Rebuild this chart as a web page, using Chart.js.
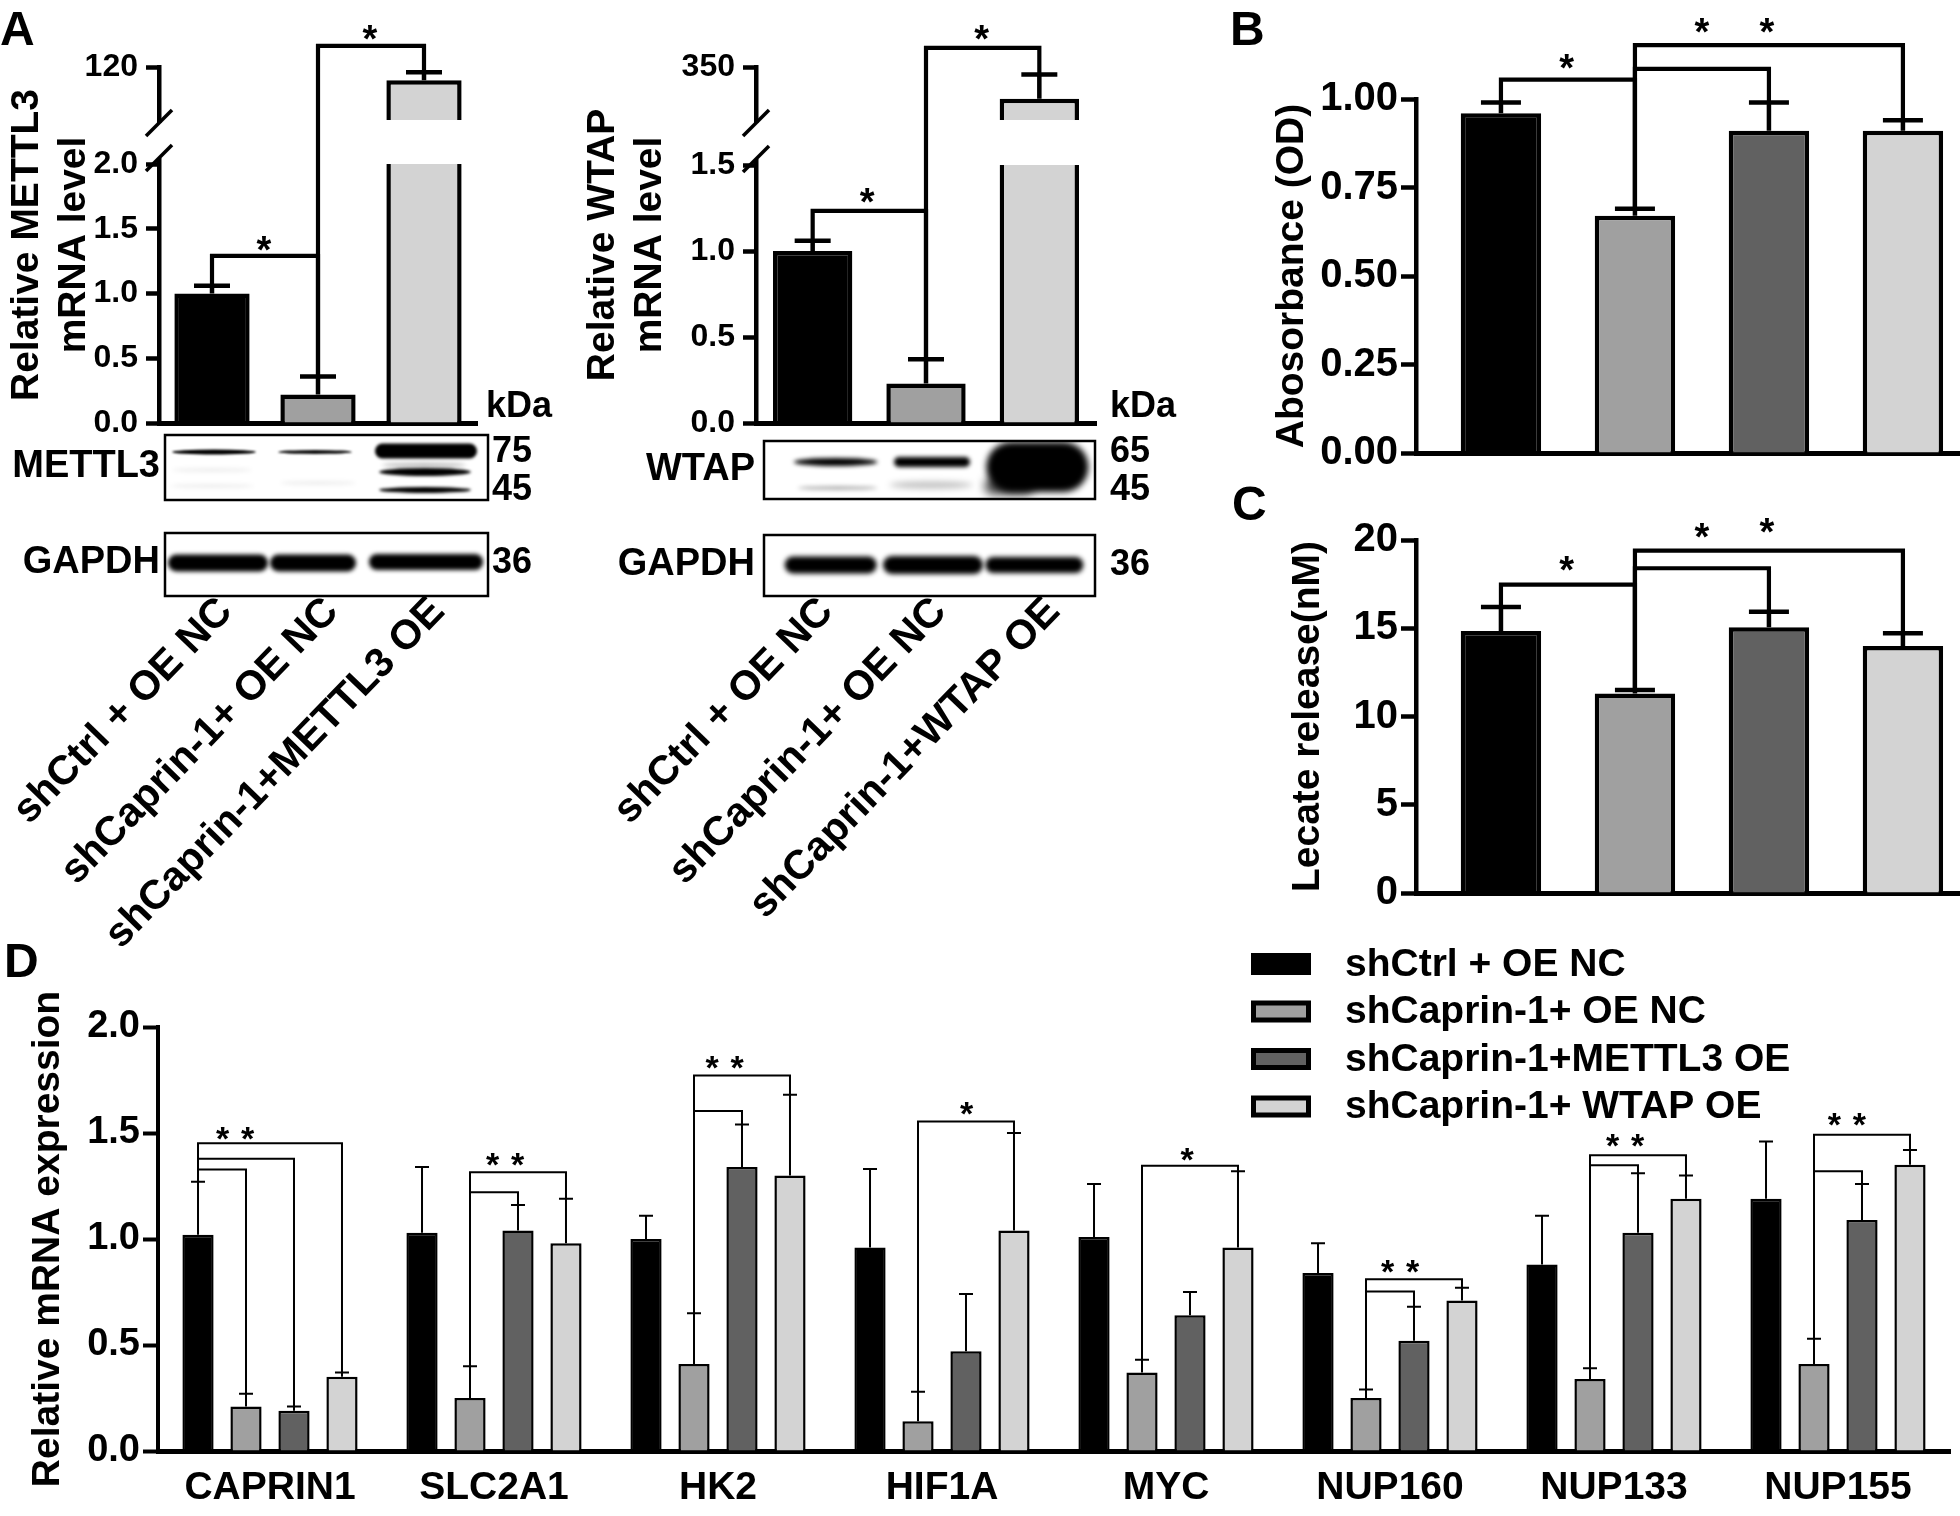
<!DOCTYPE html>
<html>
<head>
<meta charset="utf-8">
<title>Caprin-1 / METTL3 / WTAP</title>
<script src="https://cdn.jsdelivr.net/npm/chart.js@4.4.1/dist/chart.umd.min.js"></script>
<style>
  html, body { margin: 0; padding: 0; background: #fff; }
  body { width: 1960px; height: 1516px; position: relative; overflow: hidden; }
  canvas { position: absolute; }
  #chartA1 { left: 0; top: 0; }
  #chartA2 { left: 540px; top: 0; }
  #chartB { left: 1200px; top: 0; }
  #chartC { left: 1200px; top: 480px; }
  #chartD { left: 0; top: 940px; }
</style>
</head>
<body>
<canvas id="chartA1" width="560" height="960"></canvas>
<canvas id="chartA2" width="660" height="960"></canvas>
<canvas id="chartB" width="760" height="480"></canvas>
<canvas id="chartC" width="760" height="440"></canvas>
<canvas id="chartD" width="1960" height="576"></canvas>
<script>
/* ============================================= */
/*                     Data                      */
/* ============================================= */

const groupNames = ['shCtrl + OE NC', 'shCaprin-1+ OE NC', 'shCaprin-1+METTL3 OE', 'shCaprin-1+ WTAP OE'];
const groupColors = ['#000000', '#a0a0a0', '#616161', '#d3d3d3'];

// A - METTL3 qPCR (broken axis)
const mettl3Groups = ['shCtrl + OE NC', 'shCaprin-1+ OE NC', 'shCaprin-1+METTL3 OE'];
const mettl3Level = [1.0, 0.22, 115];
const mettl3Err = [0.06, 0.14, 3];
const mettl3Ticks = [0, 0.5, 1.0, 1.5, 2.0, 120];
const mettl3Brackets = [[0, 1, 1.29], [1, 2, 128]];
const mettl3Stars = [[0.49, 1.385, '*'], [1.49, 133, '*']];

// A - WTAP qPCR (broken axis)
const wtapGroups = ['shCtrl + OE NC', 'shCaprin-1+ OE NC', 'shCaprin-1+WTAP OE'];
const wtapLevel = [1.0, 0.23, 320];
const wtapErr = [0.06, 0.14, 23];
const wtapTicks = [0, 0.5, 1.0, 1.5, 350];
const wtapBrackets = [[0, 1, 1.233], [1, 2, 368]];
const wtapStars = [[0.48, 1.326, '*'], [1.49, 383, '*']];

// B - absorbance
const odValues = [0.96, 0.67, 0.91, 0.91];
const odErr = [0.03, 0.02, 0.08, 0.03];
const odBrackets = [[0, 1, 1.055], [1, 2, 1.085], [1, 3, 1.152]];
const odStars = [[0.49, 1.105, '*'], [1.5, 1.208, '*'], [1.985, 1.208, '*']];

// C - lactate release
const lactateValues = [14.85, 11.3, 15.05, 14.0];
const lactateErr = [1.35, 0.2, 0.88, 0.72];
const lactateBrackets = [[0, 1, 17.47], [1, 2, 18.4], [1, 3, 19.4]];
const lactateStars = [[0.49, 18.7, '*'], [1.5, 20.56, '*'], [1.985, 20.84, '*']];

// D - relative mRNA expression
const genes = ['CAPRIN1', 'SLC2A1', 'HK2', 'HIF1A', 'MYC', 'NUP160', 'NUP133', 'NUP155'];
const ctrlExpr = [1.02, 1.03, 1.00, 0.96, 1.01, 0.84, 0.88, 1.19];
const ctrlExprErr = [0.25, 0.31, 0.11, 0.37, 0.25, 0.14, 0.23, 0.27];
const shExpr = [0.21, 0.25, 0.41, 0.14, 0.37, 0.25, 0.34, 0.41];
const shExprErr = [0.06, 0.15, 0.24, 0.14, 0.06, 0.04, 0.05, 0.12];
const mettl3Expr = [0.19, 1.04, 1.34, 0.47, 0.64, 0.52, 1.03, 1.09];
const mettl3ExprErr = [0.02, 0.12, 0.20, 0.27, 0.11, 0.16, 0.28, 0.17];
const wtapExpr = [0.35, 0.98, 1.30, 1.04, 0.96, 0.71, 1.19, 1.35];
const wtapExprErr = [0.02, 0.21, 0.38, 0.46, 0.36, 0.06, 0.11, 0.07];
// [gene, from group, to group, bracket height]
const exprBrackets = [
    [0, 0, 1, 1.328], [0, 0, 2, 1.378], [0, 0, 3, 1.452],
    [1, 1, 2, 1.22], [1, 1, 3, 1.315],
    [2, 1, 2, 1.604], [2, 1, 3, 1.771],
    [3, 1, 3, 1.554],
    [4, 1, 3, 1.345],
    [5, 1, 2, 0.752], [5, 1, 3, 0.81],
    [6, 1, 2, 1.348], [6, 1, 3, 1.395],
    [7, 1, 2, 1.32], [7, 1, 3, 1.492]
];
const exprStars = [
    [-0.156, 1.504, '**'], [1.05, 1.378, '**'], [2.03, 1.838, '**'], [3.11, 1.62, '*'],
    [4.094, 1.404, '*'], [5.045, 0.874, '**'], [6.05, 1.47, '**'], [7.04, 1.57, '**']
];

/* ============================================= */
/*                 Chart defaults                */
/* ============================================= */

const fontFamily = "'Liberation Sans', Arial, Helvetica, sans-serif";
Chart.defaults.font.family = fontFamily;
Chart.defaults.font.weight = 'bold';
Chart.defaults.color = '#000';
Chart.defaults.animation = false;
Chart.defaults.responsive = false;
Chart.defaults.events = [];
Chart.defaults.plugins.legend.display = false;
Chart.defaults.plugins.tooltip.enabled = false;

// linear axis with a gap between a low and a high segment
class BrokenScale extends Chart.LinearScale {
    buildTicks() {
        return this.options.breakTicks.map(v => ({ value: v }));
    }
    getPixelForValue(value) {
        const b = this.options.breakAt;
        let dec;
        if (value <= b.lowMax) {
            dec = (value - this.min) / (b.lowMax - this.min) * b.lowShare;
        } else {
            dec = b.lowShare + b.gapShare + (value - b.highMin) / (this.max - b.highMin) * (1 - b.lowShare - b.gapShare);
        }
        return this.getPixelForDecimal(dec);
    }
}
BrokenScale.id = 'broken';
BrokenScale.defaults = {};
Chart.register(BrokenScale);

/* ============================================= */
/*                    Helpers                    */
/* ============================================= */

function yAxis(o) {
    return {
        type: o.type || 'linear',
        min: o.min,
        max: o.max,
        breakTicks: o.breakTicks,
        breakAt: o.breakAt,
        afterFit: s => { s.width = o.width; },
        border: { display: true, color: '#000', width: o.line },
        grid: { display: true, drawOnChartArea: false, drawTicks: true, tickLength: o.tick, tickWidth: o.line, tickColor: '#000' },
        ticks: { font: { size: o.tickSize }, padding: o.pad, autoSkip: false, stepSize: o.step, callback: o.format },
        title: { display: true, text: o.title, font: { size: 39 }, padding: { top: o.titlePad, bottom: 0 } }
    };
}

// x axis of panel A: rotated group names under the blots
function laneAxis() {
    return {
        z: 1,
        afterFit: s => {
            s.height = 537;
            s.paddingLeft = 0;
            s.paddingRight = 0;
        },
        grid: { display: false, drawTicks: false },
        border: { display: true, color: '#000', width: 5 },
        ticks: { font: { size: 41 }, padding: 165, labelOffset: 14, minRotation: 46, maxRotation: 46, autoSkip: false }
    };
}

function drawErrorBars(chart, dsIndex, errors, capWidth, lineWidth) {
    const { ctx, scales: { y } } = chart;
    const bars = chart.getDatasetMeta(dsIndex).data;
    const values = chart.data.datasets[dsIndex].data;
    ctx.save();
    ctx.strokeStyle = '#000';
    ctx.lineWidth = lineWidth;
    bars.forEach((bar, i) => {
        const v = typeof values[i] === 'object' ? values[i].y : values[i];
        const top = y.getPixelForValue(v + errors[i]);
        ctx.beginPath();
        ctx.moveTo(bar.x, bar.y);
        ctx.lineTo(bar.x, top);
        ctx.moveTo(bar.x - capWidth / 2, top);
        ctx.lineTo(bar.x + capWidth / 2, top);
        ctx.stroke();
    });
    ctx.restore();
}

function drawBrackets(chart, brackets, means, errors, lineWidth) {
    const { ctx, scales: { y } } = chart;
    const bars = chart.getDatasetMeta(0).data;
    ctx.save();
    ctx.strokeStyle = '#000';
    ctx.lineWidth = lineWidth;
    brackets.forEach(([a, b, h]) => {
        const top = y.getPixelForValue(h);
        ctx.beginPath();
        ctx.moveTo(bars[a].x, y.getPixelForValue(means[a] + errors[a]));
        ctx.lineTo(bars[a].x, top);
        ctx.lineTo(bars[b].x, top);
        ctx.lineTo(bars[b].x, y.getPixelForValue(means[b] + errors[b]));
        ctx.stroke();
    });
    ctx.restore();
}

function drawStars(chart, stars, size, gap) {
    const { ctx, scales: { x, y } } = chart;
    ctx.save();
    ctx.font = `bold ${size}px ${fontFamily}`;
    ctx.textAlign = 'center';
    ctx.textBaseline = 'middle';
    ctx.fillStyle = '#000';
    stars.forEach(([pos, h, mark]) => {
        const px = x.getPixelForValue(pos);
        const py = y.getPixelForValue(h) + size * 0.24;
        if (mark === '**') {
            ctx.fillText('*', px - gap, py);
            ctx.fillText('*', px + gap, py);
        } else {
            ctx.fillText('*', px, py);
        }
    });
    ctx.restore();
}

function drawText(ctx, text, x, y, size, align) {
    ctx.save();
    ctx.font = `bold ${size}px ${fontFamily}`;
    ctx.textAlign = align || 'left';
    ctx.textBaseline = 'middle';
    ctx.fillStyle = '#000';
    ctx.fillText(text, x, y);
    ctx.restore();
}

function drawLetter(ctx, letter, x, yMid) {
    ctx.save();
    ctx.font = `bold 48px ${fontFamily}`;
    ctx.textBaseline = 'alphabetic';
    ctx.fillStyle = '#000';
    ctx.fillText(letter, x, yMid + 17);
    ctx.restore();
}

function drawBreak(chart) {
    const { ctx, chartArea: a, scales: { y } } = chart;
    const b = y.options.breakAt;
    const yLow = y.getPixelForValue(b.lowMax);
    const yHigh = y.getPixelForValue(b.highMin);
    const ax = a.left;
    ctx.save();
    ctx.fillStyle = '#fff';
    ctx.fillRect(ax + 3, yHigh, a.right - ax, yLow - yHigh);
    ctx.fillRect(ax - 5, yHigh + 3, 10, yLow - yHigh - 9);
    ctx.strokeStyle = '#000';
    ctx.lineWidth = 3.5;
    [yHigh + 3, yLow - 6].forEach(cy => {
        ctx.beginPath();
        ctx.moveTo(ax - 13, cy + 13);
        ctx.lineTo(ax + 13, cy - 13);
        ctx.stroke();
    });
    ctx.restore();
}

// western blot strip: [cx, cy, width, height, alpha, blur]
function drawBlot(ctx, x, y, w, h, bands) {
    ctx.save();
    ctx.beginPath();
    ctx.rect(x, y, w, h);
    ctx.clip();
    bands.forEach(([cx, cy, bw, bh, alpha, blur]) => {
        ctx.filter = `blur(${blur}px)`;
        ctx.globalAlpha = alpha;
        ctx.fillStyle = '#000';
        ctx.beginPath();
        if (bh > 9) {
            ctx.roundRect(cx - bw / 2, cy - bh / 2, bw, bh, bh / 2);
        } else {
            ctx.ellipse(cx, cy, bw / 2, bh / 2, 0, 0, Math.PI * 2);
        }
        ctx.fill();
    });
    ctx.restore();
    ctx.save();
    ctx.strokeStyle = '#000';
    ctx.lineWidth = 2.5;
    ctx.strokeRect(x, y, w, h);
    ctx.restore();
}

/* ============================================= */
/*              A - METTL3 bar graph             */
/* ============================================= */

const mettl3Extras = {
    id: 'mettl3Extras',
    afterDatasetsDraw: chart => drawBreak(chart),
    afterDraw: chart => {
        const { ctx, chartArea: a, scales: { x } } = chart;
        drawErrorBars(chart, 0, mettl3Err, 36, 4.5);
        drawBrackets(chart, mettl3Brackets, mettl3Level, mettl3Err, 4.2);
        drawStars(chart, mettl3Stars, 38, 0);
        drawLetter(ctx, 'A', 0, 28);

        const L = mettl3Groups.map((g, i) => x.getPixelForValue(i));
        const left = a.left + 6, width = a.right + 11 - left;
        drawBlot(ctx, left, 435, width, 65, [
            [L[0] + 2, 452, 84, 5, 1, 1],
            [L[1] - 3, 452, 74, 4, 0.95, 1],
            [L[2] + 2, 451, 102, 15, 1, 1.5],
            [L[2], 465, 84, 4, 0.3, 2],
            [L[2] + 1, 472, 92, 8, 1, 1.5],
            [L[2] + 1, 490, 92, 6, 1, 1.5],
            [L[0], 470, 80, 4, 0.07, 2],
            [L[0], 486, 84, 4, 0.07, 2],
            [L[1], 483, 76, 4, 0.07, 2]
        ]);
        drawBlot(ctx, left, 533, width, 63, [
            [L[0] + 6, 563, 100, 17, 1, 2],
            [L[1] - 5, 563, 86, 17, 1, 2],
            [L[2] + 2, 562, 114, 16, 1, 2]
        ]);
        drawText(ctx, 'METTL3', left - 5, 467, 38, 'right');
        drawText(ctx, 'GAPDH', left - 5, 563, 38, 'right');
        drawText(ctx, 'kDa', a.right + 9, 407, 36);
        drawText(ctx, '75', left + width + 4, 452, 36);
        drawText(ctx, '45', left + width + 4, 490, 36);
        drawText(ctx, '36', left + width + 4, 563, 36);
    }
};

new Chart(document.getElementById('chartA1'), {
    type: 'bar',
    data: {
        labels: mettl3Groups,
        datasets: [{
            data: mettl3Level,
            backgroundColor: groupColors.slice(0, 2).concat(groupColors[3]),
            borderColor: '#000',
            borderWidth: 4.5,
            borderSkipped: 'start',
            barPercentage: 0.71,
            categoryPercentage: 1
        }]
    },
    options: {
        devicePixelRatio: 1,
        layout: { padding: { top: 67, right: 83, left: 0, bottom: 0 } },
        scales: {
            x: laneAxis(),
            y: yAxis({
                type: 'broken', min: 0, max: 120, width: 159, line: 4.5, tick: 13, pad: 8, tickSize: 32,
                breakTicks: mettl3Ticks,
                breakAt: { lowMax: 2.0, highMin: 100, lowShare: 0.7275, gapShare: 0.1236 },
                format: v => v >= 10 ? String(v) : v.toFixed(1),
                title: ['Relative METTL3', 'mRNA level'], titlePad: 3.6
            })
        }
    },
    plugins: [mettl3Extras]
});

/* ============================================= */
/*               A - WTAP bar graph              */
/* ============================================= */

const wtapExtras = {
    id: 'wtapExtras',
    afterDatasetsDraw: chart => drawBreak(chart),
    afterDraw: chart => {
        const { ctx, chartArea: a, scales: { x } } = chart;
        drawErrorBars(chart, 0, wtapErr, 36, 4.5);
        drawBrackets(chart, wtapBrackets, wtapLevel, wtapErr, 4.2);
        drawStars(chart, wtapStars, 38, 0);

        const L = wtapGroups.map((g, i) => x.getPixelForValue(i));
        const left = a.left + 8, width = a.right - 1 - left;
        drawBlot(ctx, left, 441, width, 58, [
            [L[0] + 23, 462, 84, 8, 1, 2],
            [L[1] + 6, 462, 76, 10, 1, 2],
            [L[2] - 2, 467, 102, 50, 1, 3],
            [L[2] - 30, 486, 50, 18, 0.7, 5],
            [L[0] + 25, 488, 80, 4, 0.3, 2],
            [L[1] + 5, 485, 84, 7, 0.25, 3]
        ]);
        drawBlot(ctx, left, 535, width, 61, [
            [L[0] + 18, 565, 92, 17, 1, 2.5],
            [L[1] + 7, 565, 100, 18, 1, 2.5],
            [L[2] - 5, 565, 98, 16, 1, 2.5]
        ]);
        drawText(ctx, 'WTAP', left - 9, 470, 38, 'right');
        drawText(ctx, 'GAPDH', left - 9, 565, 38, 'right');
        drawText(ctx, 'kDa', a.right + 14, 407, 36);
        drawText(ctx, '65', a.right + 14, 452, 36);
        drawText(ctx, '45', a.right + 14, 490, 36);
        drawText(ctx, '36', a.right + 14, 565, 36);
    }
};

new Chart(document.getElementById('chartA2'), {
    type: 'bar',
    data: {
        labels: wtapGroups,
        datasets: [{
            data: wtapLevel,
            backgroundColor: groupColors.slice(0, 2).concat(groupColors[3]),
            borderColor: '#000',
            borderWidth: 4.5,
            borderSkipped: 'start',
            barPercentage: 0.7,
            categoryPercentage: 1
        }]
    },
    options: {
        devicePixelRatio: 1,
        layout: { padding: { top: 67, right: 104, left: 0, bottom: 0 } },
        scales: {
            x: laneAxis(),
            y: yAxis({
                type: 'broken', min: 0, max: 350, width: 216, line: 4.5, tick: 13, pad: 8, tickSize: 32,
                breakTicks: wtapTicks,
                breakAt: { lowMax: 1.5, highMin: 300, lowShare: 0.7247, gapShare: 0.1264 },
                format: v => v >= 10 ? String(v) : v.toFixed(1),
                title: ['Relative WTAP', 'mRNA level'], titlePad: 39.6
            })
        }
    },
    plugins: [wtapExtras]
});

/* ============================================= */
/*              B / C - bar graphs               */
/* ============================================= */

function groupChart(canvasId, values, errors, brackets, stars, opts) {
    return new Chart(document.getElementById(canvasId), {
        type: 'bar',
        data: {
            datasets: [{
                data: values.map((v, i) => ({ x: i, y: v })),
                backgroundColor: groupColors,
                borderColor: '#000',
                borderWidth: 4.5,
                borderSkipped: 'start',
                barPercentage: 0.6,
                categoryPercentage: 1
            }]
        },
        options: {
            devicePixelRatio: 1,
            layout: { padding: { top: opts.top, right: 0, left: 0, bottom: 0 } },
            scales: {
                x: {
                    type: 'linear',
                    offset: false,
                    min: -0.634,
                    max: 3.426,
                    z: 1,
                    afterBuildTicks: s => { s.ticks = values.map((v, i) => ({ value: i })); },
                    afterFit: s => { s.height = opts.bottomSpace; },
                    grid: { display: false, drawTicks: false },
                    border: { display: true, color: '#000', width: 5 },
                    ticks: { display: false }
                },
                y: yAxis({
                    min: 0, max: opts.max, step: opts.step, width: 216, line: 4.5, tick: 15, pad: 3, tickSize: 40,
                    format: opts.format, title: opts.title, titlePad: opts.titlePad
                })
            }
        },
        plugins: [{
            id: canvasId + 'Extras',
            afterDraw: chart => {
                drawErrorBars(chart, 0, errors, 40, 4.5);
                drawBrackets(chart, brackets, values, errors, 4.2);
                drawStars(chart, stars, 38, 0);
                drawLetter(chart.ctx, opts.letter, opts.letterX, opts.letterY);
            }
        }]
    });
}

groupChart('chartB', odValues, odErr, odBrackets, odStars, {
    top: 99, bottomSpace: 26, max: 1, step: 0.25, format: v => v.toFixed(2),
    title: 'Abosorbance (OD)', titlePad: 68.6, letter: 'B', letterX: 30, letterY: 28
});

groupChart('chartC', lactateValues, lactateErr, lactateBrackets, lactateStars, {
    top: 60, bottomSpace: 24, max: 20, step: 5, format: v => String(v),
    title: 'Lecate release(nM)', titlePad: 84.6, letter: 'C', letterX: 32, letterY: 23
});

/* ============================================= */
/*              D - grouped bar graph            */
/* ============================================= */

const exprErrors = [ctrlExprErr, shExprErr, mettl3ExprErr, wtapExprErr];
const exprMeans = [ctrlExpr, shExpr, mettl3Expr, wtapExpr];

const exprExtras = {
    id: 'exprExtras',
    afterDraw: chart => {
        const { ctx, scales: { y } } = chart;
        exprErrors.forEach((errs, ds) => drawErrorBars(chart, ds, errs, 14, 2));

        ctx.save();
        ctx.strokeStyle = '#000';
        ctx.lineWidth = 2;
        exprBrackets.forEach(([g, a, b, h]) => {
            const xa = chart.getDatasetMeta(a).data[g].x;
            const xb = chart.getDatasetMeta(b).data[g].x;
            const top = y.getPixelForValue(h);
            ctx.beginPath();
            ctx.moveTo(xa, y.getPixelForValue(exprMeans[a][g] + exprErrors[a][g]));
            ctx.lineTo(xa, top);
            ctx.lineTo(xb, top);
            ctx.lineTo(xb, y.getPixelForValue(exprMeans[b][g] + exprErrors[b][g]));
            ctx.stroke();
        });
        ctx.restore();
        drawStars(chart, exprStars, 34, 12.5);

        // legend
        ctx.save();
        chart.data.datasets.forEach((ds, i) => {
            const cy = 24 + i * 47.5;
            ctx.fillStyle = '#000';
            ctx.fillRect(1251, cy - 11, 60, 22);
            ctx.fillStyle = ds.backgroundColor;
            ctx.fillRect(1256, cy - 6, 50, 12);
            drawText(ctx, ds.label, 1345, cy + 1, 39);
        });
        ctx.restore();
        drawLetter(ctx, 'D', 4, 20);
    }
};

new Chart(document.getElementById('chartD'), {
    type: 'bar',
    data: {
        labels: genes,
        datasets: exprMeans.map((vals, i) => ({
            label: groupNames[i],
            data: vals,
            backgroundColor: groupColors[i],
            borderColor: '#000',
            borderWidth: 2.5,
            borderSkipped: 'start',
            barPercentage: 0.65,
            categoryPercentage: 0.857
        }))
    },
    options: {
        devicePixelRatio: 1,
        layout: { padding: { top: 87, right: 10, left: 0, bottom: 0 } },
        scales: {
            x: {
                z: 1,
                afterFit: s => { s.height = 65; },
                grid: { display: false, drawTicks: false },
                border: { display: true, color: '#000', width: 5 },
                ticks: { font: { size: 39 }, padding: 14, autoSkip: false, maxRotation: 0 }
            },
            y: yAxis({
                min: 0, max: 2, step: 0.5, width: 158, line: 4, tick: 15, pad: 3, tickSize: 38,
                format: v => v.toFixed(1), title: 'Relative mRNA expression', titlePad: 24.6
            })
        }
    },
    plugins: [exprExtras]
});
</script>
</body>
</html>
